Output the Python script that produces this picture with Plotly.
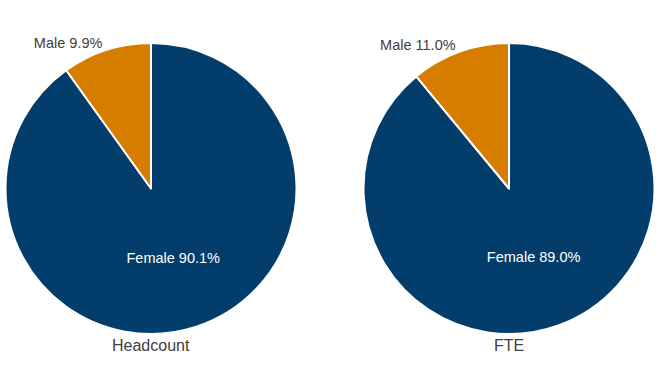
import plotly.graph_objects as go

labels = ["Female", "Male"]
headcount = [90.1, 9.9]
fte = [89.0, 11.0]
titles = ["Headcount", "FTE"]
colors = ["#023d6b", "#d67d00"]

W, H = 662, 380
FONT = "Liberation Sans, Arial"
fig = go.Figure()

domains = [([5, 297], [43, 334]), ([362, 656], [43, 334])]
for vals, title, (dx, dy) in zip([headcount, fte], titles, domains):
    fig.add_trace(go.Pie(
        labels=labels, values=vals, sort=False, direction="clockwise", rotation=0,
        marker=dict(colors=colors, line=dict(color="white", width=2)),
        texttemplate="%{label} %{value:.1f}%",
        textposition=["inside", "outside"],
        insidetextfont=dict(color="white", size=14.5, family=FONT),
        outsidetextfont=dict(color="#404040", size=14.5, family=FONT),
        insidetextorientation="horizontal",
        hoverinfo="label+value",
        showlegend=False,
        domain=dict(x=[dx[0] / W, dx[1] / W], y=[(H - dy[1]) / H, (H - dy[0]) / H]),
    ))
    cx = (dx[0] + dx[1]) / 2 / W
    fig.add_annotation(text=title, x=cx, y=(H - 345) / H, xref="paper", yref="paper",
                       yanchor="middle", xanchor="center",
                       showarrow=False, font=dict(size=16, color="#404040", family=FONT))

fig.update_layout(width=W, height=H, margin=dict(l=0, r=0, t=0, b=0),
                  paper_bgcolor="white", plot_bgcolor="white")
fig.write_html("out.html", config={"displayModeBar": False},
               post_script="document.body.style.margin='0';")
